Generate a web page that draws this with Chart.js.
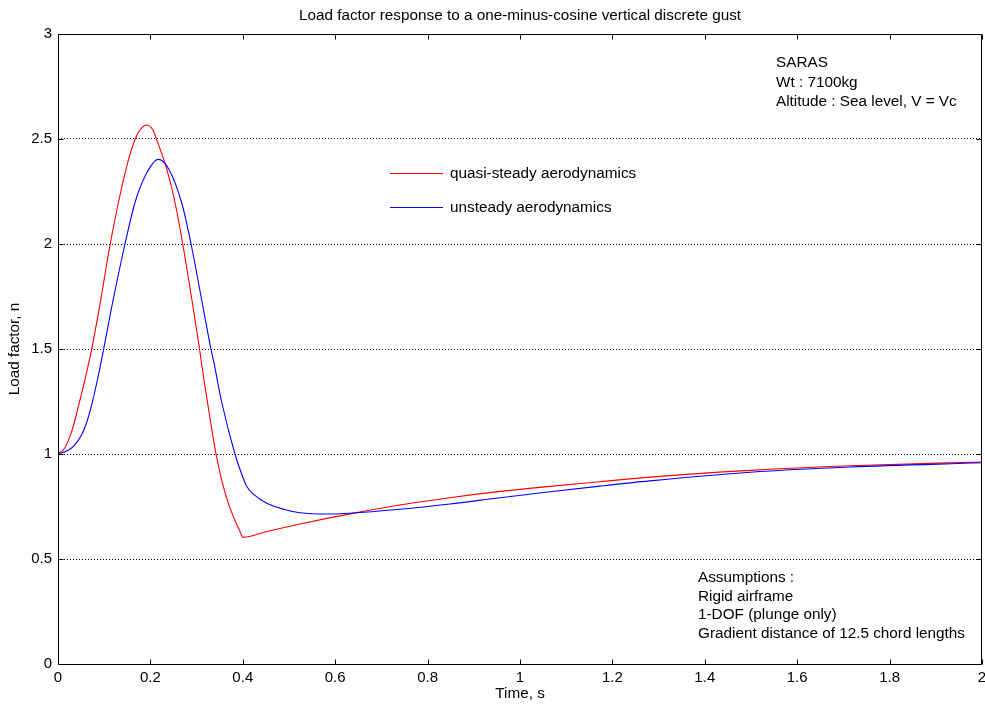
<!DOCTYPE html>
<html>
<head>
<meta charset="utf-8">
<script src="https://cdn.jsdelivr.net/npm/chart.js@4/dist/chart.umd.min.js"></script>
<style>
  html, body { margin: 0; padding: 0; background: #fff; }
  #wrap { width: 985px; height: 705px; position: relative; }
</style>
</head>
<body>
<div id="wrap"><canvas id="c" width="985" height="705"></canvas></div>
<script>
// ---- Data ----
const seriesNames = ["quasi-steady aerodynamics", "unsteady aerodynamics"];
const seriesColors = ["#ff0000", "#0000ff"];

const tQuasi = [0, 0.015, 0.03, 0.045, 0.06, 0.072, 0.089, 0.113, 0.131, 0.15, 0.167, 0.18, 0.192, 0.205, 0.213, 0.235, 0.253, 0.27, 0.293, 0.305, 0.316, 0.329, 0.342, 0.355, 0.368, 0.38, 0.392, 0.401, 0.45, 0.524, 0.632, 0.74, 0.848, 0.957, 1.065, 1.173, 1.281, 1.498, 1.714, 2.0];
const nQuasi = [1.0, 1.03, 1.11, 1.235, 1.37, 1.49, 1.69, 2.0, 2.2, 2.38, 2.5, 2.55, 2.567, 2.545, 2.5, 2.36, 2.2, 2.0, 1.69, 1.52, 1.352, 1.17, 1.0, 0.87, 0.77, 0.70, 0.64, 0.603, 0.63, 0.667, 0.715, 0.757, 0.792, 0.822, 0.846, 0.868, 0.89, 0.922, 0.944, 0.962];

const tUnsteady = [0, 0.02, 0.035, 0.051, 0.062, 0.073, 0.085, 0.098, 0.115, 0.145, 0.167, 0.19, 0.217, 0.239, 0.268, 0.288, 0.315, 0.331, 0.338, 0.354, 0.383, 0.395, 0.408, 0.425, 0.452, 0.488, 0.524, 0.582, 0.632, 0.74, 0.848, 0.957, 1.065, 1.173, 1.281, 1.498, 1.714, 2.0];
const nUnsteady = [1.0, 1.015, 1.04, 1.09, 1.15, 1.235, 1.35, 1.49, 1.686, 2.0, 2.2, 2.33, 2.403, 2.36, 2.194, 2.0, 1.686, 1.5, 1.43, 1.25, 1.0, 0.92, 0.848, 0.805, 0.765, 0.737, 0.72, 0.714, 0.718, 0.737, 0.762, 0.792, 0.82, 0.847, 0.872, 0.913, 0.938, 0.958];

const xTickValues = [0, 0.2, 0.4, 0.6, 0.8, 1, 1.2, 1.4, 1.6, 1.8, 2];
const xTickLabels = ["0", "0.2", "0.4", "0.6", "0.8", "1", "1.2", "1.4", "1.6", "1.8", "2"];
const yTickValues = [0, 0.5, 1, 1.5, 2, 2.5, 3];
const yTickLabels = ["0", "0.5", "1", "1.5", "2", "2.5", "3"];

const titleText = "Load factor response to a one-minus-cosine vertical discrete gust";
const xTitle = "Time, s";
const yTitle = "Load factor, n";
const infoLines = ["SARAS", "Wt : 7100kg", "Altitude : Sea level, V = Vc"];
const assumptionLines = ["Assumptions :", "Rigid airframe", "1-DOF (plunge only)", "Gradient distance of 12.5 chord lengths"];

// ---- Build ----
const FONT = "'Liberation Sans', Arial, sans-serif";
const toXY = (ts, ns) => ts.map((t, i) => ({ x: t, y: ns[i] }));

const frame = {
  id: 'frame',
  afterDatasetsDraw(chart) {
    const { ctx, chartArea: a, scales } = chart;
    ctx.save();
    ctx.strokeStyle = '#000';
    ctx.lineWidth = 1;
    const L = Math.round(a.left) + 0.5, T = Math.round(a.top) + 0.5;
    const R = Math.round(a.right) - 0.5, B = Math.round(a.bottom) + 0.5;
    ctx.beginPath();
    ctx.rect(L, T, R - L, B - T);
    ctx.stroke();
    const tl = 5;
    ctx.beginPath();
    xTickValues.forEach(v => {
      const px = Math.round(scales.x.getPixelForValue(v)) + 0.5;
      ctx.moveTo(px, B); ctx.lineTo(px, B - tl);
      ctx.moveTo(px, T); ctx.lineTo(px, T + tl);
    });
    yTickValues.forEach(v => {
      const py = Math.round(scales.y.getPixelForValue(v)) + 0.5;
      ctx.moveTo(L, py); ctx.lineTo(L + tl, py);
      ctx.moveTo(R, py); ctx.lineTo(R - tl, py);
    });
    ctx.stroke();

    ctx.fillStyle = '#000';
    ctx.textBaseline = 'middle';

    // tick labels
    ctx.font = '15px ' + FONT;
    ctx.textAlign = 'center';
    xTickValues.forEach((v, i) => ctx.fillText(xTickLabels[i], scales.x.getPixelForValue(v), 678));
    ctx.textAlign = 'right';
    yTickValues.forEach((v, i) => ctx.fillText(yTickLabels[i], 52, scales.y.getPixelForValue(v)));

    // titles
    ctx.textAlign = 'center';
    ctx.font = '15.3px ' + FONT;
    ctx.fillText(titleText, (a.left + a.right) / 2, 16);
    ctx.fillText(xTitle, (a.left + a.right) / 2, 694);
    ctx.save();
    ctx.translate(15, (a.top + a.bottom) / 2);
    ctx.rotate(-Math.PI / 2);
    ctx.fillText(yTitle, 0, 0);
    ctx.restore();

    // annotations
    ctx.textAlign = 'left';
    infoLines.forEach((s, i) => ctx.fillText(s, 776, 63 + i * 19.5));
    assumptionLines.forEach((s, i) => ctx.fillText(s, 698, 578 + i * 18.5));

    // legend
    seriesNames.forEach((name, i) => {
      const y = 173 + i * 34 + 0.5;
      ctx.strokeStyle = seriesColors[i];
      ctx.lineWidth = 1;
      ctx.beginPath();
      ctx.moveTo(390, y); ctx.lineTo(443, y);
      ctx.stroke();
      ctx.fillStyle = '#000';
      ctx.fillText(name, 450, y);
    });
    ctx.restore();
  }
};

new Chart(document.getElementById('c'), {
  type: 'line',
  plugins: [frame],
  data: {
    datasets: [
      { label: seriesNames[1], data: toXY(tUnsteady, nUnsteady), borderColor: seriesColors[1], borderWidth: 1.1, pointRadius: 0, fill: false, cubicInterpolationMode: 'monotone', order: 0 },
      { label: seriesNames[0], data: toXY(tQuasi, nQuasi), borderColor: seriesColors[0], borderWidth: 1.1, pointRadius: 0, fill: false, cubicInterpolationMode: 'monotone', order: 1 }
    ]
  },
  options: {
    responsive: false,
    animation: false,
    events: [],
    layout: { padding: { top: 34, right: 3, left: 0, bottom: 0 } },
    plugins: { legend: { display: false }, title: { display: false }, tooltip: { enabled: false } },
    scales: {
      x: {
        type: 'linear', min: 0, max: 2,
        afterFit(s) { s.height = 41; s.paddingLeft = 0; s.paddingRight = 0; },
        afterBuildTicks(s) { s.ticks = xTickValues.map(v => ({ value: v })); },
        grid: { display: false, drawTicks: false },
        border: { display: false },
        ticks: { display: false }
      },
      y: {
        type: 'linear', min: 0, max: 3,
        afterFit(s) { s.width = 58; s.paddingTop = 0; s.paddingBottom = 0; },
        afterBuildTicks(s) { s.ticks = yTickValues.map(v => ({ value: v })); },
        grid: {
          drawTicks: false,
          color: (c) => (c.tick && (c.tick.value === 0 || c.tick.value === 3)) ? 'rgba(0,0,0,0)' : '#000',
          lineWidth: 1
        },
        border: { display: false, dash: [1, 2] },
        ticks: { display: false }
      }
    }
  }
});
</script>
</body>
</html>
